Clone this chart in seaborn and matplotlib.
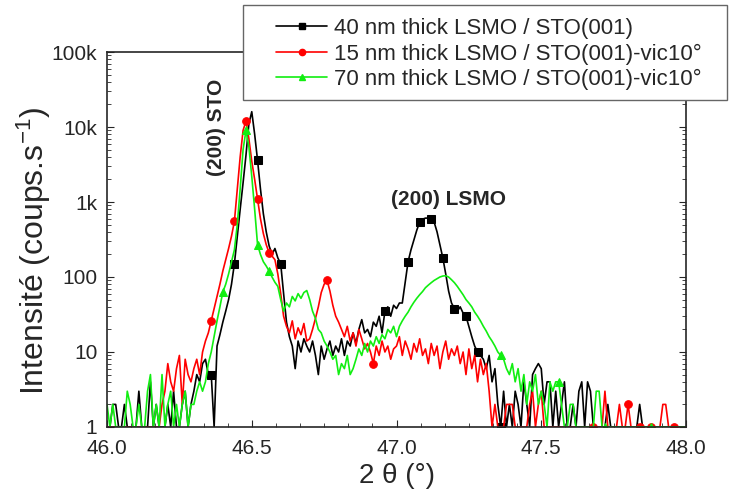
import numpy as np
import matplotlib
matplotlib.use("Agg")
import matplotlib.pyplot as plt
import matplotlib.ticker as mticker
from matplotlib.patches import Rectangle
import seaborn as sns

#------------------data---------------------------------------
# 2theta grid, 46.00 .. 48.00 deg, step 0.01
two_theta = np.round(46.0 + 0.01 * np.arange(201), 2)

# 40 nm thick LSMO / STO(001)
lsmo_40 = [
    1, 1, 2, 2, 1, 1, 2, 1, 1, 1,
    1, 3, 1, 1, 1, 4, 1, 2, 1, 1,
    1, 2, 1, 3, 1, 1, 2, 3, 1, 2,
    3, 5, 4, 7, 8, 5, 5, 1, 12, 17,
    25, 35, 50, 80, 150, 350, 800, 1800, 4200, 11000,
    16000, 8000, 3600, 1500, 700, 400, 260, 200, 240, 180,
    150, 60, 25, 16, 12, 6, 14, 10, 15, 12,
    10, 14, 9, 5, 12, 8, 11, 14, 9, 12,
    10, 15, 9, 14, 12, 18, 13, 20, 27, 18,
    20, 16, 25, 22, 30, 18, 35, 40, 30, 42,
    38, 45, 45, 85, 160, 230, 310, 420, 540, 590,
    610, 610, 600, 540, 400, 270, 180, 110, 65, 45,
    38, 35, 40, 33, 30, 22, 16, 12, 10, 9,
    8, 6, 9, 4, 6, 2, 1, 3, 1, 2,
    1, 3, 2, 1, 4, 2, 1, 5, 6, 7,
    6, 2, 4, 4, 1, 3, 1, 2, 4, 1,
    1, 2, 1, 3, 4, 1, 4, 3, 1, 1,
    1, 1, 1, 2, 1, 1, 1, 1, 1, 1,
    1, 1, 1, 1, 2, 1, 1, 1, 1, 1,
    1, 1, 1, 1, 1, 1, 1, 1, 1, 1, 1]

# 15 nm thick LSMO / STO(001)-vic10
lsmo_15 = [
    1, 1, 1, 1, 1, 1, 1, 1, 1, 1,
    1, 1, 1, 1, 1, 1, 1, 1, 1, 2,
    3, 7, 4, 3, 6, 9, 2, 8, 5, 4,
    6, 8, 5, 10, 14, 18, 26, 38, 55, 80,
    120, 170, 240, 350, 550, 1500, 4000, 9000, 12000, 7000,
    3500, 2000, 1100, 600, 380, 270, 210, 190, 170, 110,
    60, 30, 22, 18, 26, 15, 21, 17, 24, 14,
    15, 20, 28, 40, 62, 80, 90, 65, 42, 30,
    25, 20, 16, 22, 14, 18, 12, 20, 15, 11,
    13, 10, 7, 12, 9, 14, 10, 12, 8, 11,
    12, 16, 9, 14, 11, 8, 13, 10, 15, 9,
    11, 7, 13, 9, 12, 6, 10, 14, 8, 11,
    9, 12, 7, 10, 5, 11, 6, 9, 4, 8,
    5, 7, 3, 1, 2, 1, 1, 1, 2, 2,
    2, 1, 1, 1, 1, 1, 2, 3, 1, 2,
    3, 1, 1, 1, 1, 1, 1, 1, 1, 1,
    1, 1, 1, 1, 1, 1, 1, 1, 1, 1,
    1, 1, 3, 1, 1, 1, 1, 2, 1, 1,
    2, 1, 1, 1, 1, 1, 1, 1, 1, 1,
    1, 1, 2, 2, 1, 1, 1, 1, 1, 1, 1]

# 70 nm thick LSMO / STO(001)-vic10
lsmo_70 = [
    2, 1, 2, 1, 1, 1, 1, 3, 2, 1,
    1, 2, 1, 1, 3, 5, 1, 2, 1, 5,
    1, 2, 3, 1, 2, 1, 2, 3, 1, 2,
    2, 3, 4, 3, 4, 7, 10, 16, 26, 40,
    63, 80, 110, 160, 230, 500, 1500, 5000, 9000, 5500,
    2200, 800, 270, 200, 160, 140, 120, 100, 85, 75,
    50, 35, 45, 40, 55, 48, 60, 52, 62, 66,
    50, 35, 28, 20, 18, 14, 12, 10, 8, 9,
    5, 7, 6, 9, 5, 6, 8, 11, 9, 13,
    10, 14, 12, 16, 13, 17, 15, 20, 18, 22,
    16, 22, 26, 30, 34, 40, 46, 52, 58, 64,
    72, 78, 84, 90, 95, 100, 103, 104, 100, 92,
    84, 75, 66, 58, 50, 45, 40, 34, 30, 26,
    22, 19, 16, 14, 12, 10, 9, 8, 6, 5,
    7, 4, 6, 3, 5, 2, 4, 3, 5, 2,
    3, 2, 1, 4, 3, 4, 4, 2, 1, 1,
    2, 2, 1, 1, 1, 1, 1, 1, 1, 3,
    3, 1, 1, 1, 1, 1, 1, 1, 1, 1,
    1, 1, 1, 1, 1, 1, 1, 1, 1, 1,
    1, 1, 1, 1, 1, 1, 1, 1, 1, 1, 1]

series_labels = ["40 nm thick LSMO / STO(001)",
                 "15 nm thick LSMO / STO(001)-vic10°",
                 "70 nm thick LSMO / STO(001)-vic10°"]
x_ticks = [46.0, 46.5, 47.0, 47.5, 48.0]
x_tick_labels = ["46.0", "46.5", "47.0", "47.5", "48.0"]
y_ticks = [1, 10, 100, 1000, 10000, 100000]
y_tick_labels = ["1", "10", "100", "1k", "10k", "100k"]

#------------------style-------------------
sns.set_style("ticks")
plt.rcParams['font.family'] = ['Liberation Sans', 'DejaVu Sans']
plt.rcParams['mathtext.fontset'] = 'custom'
plt.rcParams['mathtext.rm'] = 'Liberation Sans'
plt.rcParams['mathtext.default'] = 'regular'

colors = ["#000000", "#ff0000", "#11ee11"]
markers = ["s", "o", "^"]
# where the symbols sit along each curve (every 4th point, only where visible)
mark_at = [
    [46.36, 46.44, 46.52, 46.60, 46.96, 47.04, 47.08, 47.12, 47.16, 47.20, 47.24, 47.28, 47.36],
    [46.36, 46.44, 46.48, 46.52, 46.56, 46.76, 46.92, 47.68, 47.80, 47.84, 47.88, 47.96],
    [46.40, 46.48, 46.52, 46.56, 47.36, 47.56, 47.72, 47.88],
]

fig = plt.figure(figsize=(7.29, 4.93), dpi=100)
ax = fig.add_axes([0.1468, 0.1339, 0.7942, 0.7606])

handles = []
for yvals, lab, col, mk, marks in zip([lsmo_40, lsmo_15, lsmo_70], series_labels,
                                      colors, markers, mark_at):
    idx = [int(round((m - 46.0) / 0.01)) for m in marks]
    sns.lineplot(x=two_theta, y=yvals, ax=ax, color=col, marker=mk,
                 markersize=5.5, markevery=idx, markeredgecolor=col,
                 linewidth=1.2, estimator=None, sort=False, legend=False)
    handles.append(plt.Line2D([], [], color=col, marker=mk, markersize=4.5,
                              markeredgecolor=col, linewidth=1.2, label=lab))

ax.set_yscale("log")
ax.set_xlim(46.0, 48.0)
ax.set_ylim(1, 1e5)
ax.yaxis.set_major_locator(mticker.FixedLocator(y_ticks))
ax.yaxis.set_major_formatter(mticker.FixedFormatter(y_tick_labels))
ax.yaxis.set_minor_locator(mticker.LogLocator(base=10, subs=np.arange(2, 10)))
ax.yaxis.set_minor_formatter(mticker.NullFormatter())
ax.xaxis.set_major_locator(mticker.FixedLocator(x_ticks))
ax.xaxis.set_major_formatter(mticker.FixedFormatter(x_tick_labels))
ax.xaxis.set_minor_locator(mticker.AutoMinorLocator(6))
ax.tick_params(which="both", direction="in", right=True, top=False, labelsize=15)
ax.tick_params(which="major", length=5)
ax.tick_params(which="minor", length=3)
ax.tick_params(axis="y", pad=7)
ax.tick_params(axis="x", pad=9)
for sp in ax.spines.values():
    sp.set_linewidth(1.2)

ax.set_xlabel("2 θ (°)", fontsize=20, labelpad=3)
ax.set_ylabel("Intensité (coups.s$^{-1}$)", fontsize=23)
ax.yaxis.set_label_coords(-0.094, 0.47)

ax.text(46.377, 10**4.0, "(200) STO", rotation=90, fontweight="bold",
        fontsize=15, ha="center", va="center")
ax.text(47.18, 10**3.03, "(200) LSMO", fontweight="bold",
        fontsize=15, ha="center", va="center")

# legend frame sits over the top right corner of the axes
frame = Rectangle((243 / 729, 1 - 100 / 493), 484 / 729, 95 / 493,
                  transform=fig.transFigure, facecolor="white",
                  edgecolor="#666666", linewidth=1.0, zorder=3)
fig.patches.append(frame)
leg = fig.legend(handles=handles, loc="upper left",
                 bbox_to_anchor=(276 / 729, 1 - 18 / 493),
                 bbox_transform=fig.transFigure, frameon=False,
                 fontsize=16, handlelength=2.3, handletextpad=0.3,
                 numpoints=1, borderpad=0, borderaxespad=0, labelspacing=0.2)
leg.set_zorder(4)

fig.savefig("out.png", dpi=100)
